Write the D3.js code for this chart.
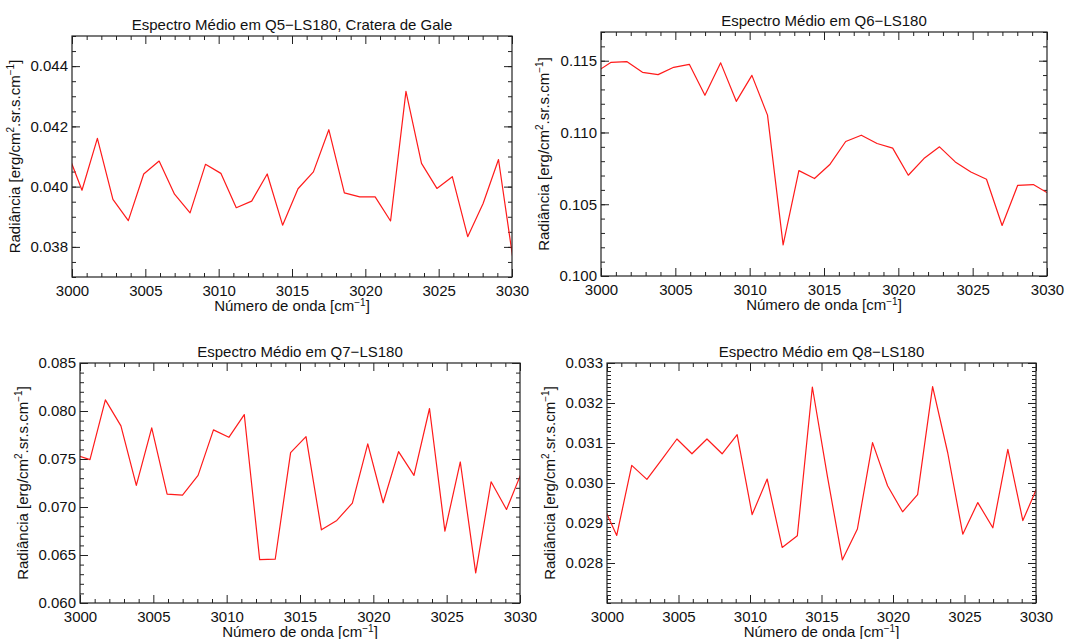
<!DOCTYPE html>
<html>
<head>
<meta charset="utf-8">
<script src="https://cdn.jsdelivr.net/npm/d3@7"></script>
<style>
  body { margin: 0; background: #fff; }
  svg { display: block; }
  text { font-family: "Liberation Sans", Arial, Helvetica, sans-serif; }
</style>
</head>
<body>
<svg id="chart" width="1065" height="639"></svg>
<script>
// Wavenumber grid of the averaged spectra [cm^-1]
const wavenumber = [2999.63, 3000.68, 3001.73, 3002.79, 3003.84, 3004.89, 3005.94, 3006.99,
  3008.05, 3009.10, 3010.15, 3011.20, 3012.25, 3013.31, 3014.36, 3015.41, 3016.46, 3017.51,
  3018.57, 3019.62, 3020.67, 3021.72, 3022.77, 3023.83, 3024.88, 3025.93, 3026.98, 3028.03,
  3029.08, 3030.14];

// Mean radiance per quadrant [erg/cm2.sr.s.cm-1]
const radianceQ5 = [0.04121, 0.03988, 0.04160, 0.03958, 0.03887, 0.04042, 0.04085, 0.03975,
  0.03913, 0.04074, 0.04044, 0.03930, 0.03952, 0.04042, 0.03872, 0.03993, 0.04049, 0.04189,
  0.03979, 0.03966, 0.03966, 0.03886, 0.04316, 0.04077, 0.03994, 0.04033, 0.03834, 0.03944,
  0.04090, 0.03734];
const radianceQ6 = [0.11418, 0.11489, 0.11494, 0.11419, 0.11403, 0.11454, 0.11475, 0.11259,
  0.11485, 0.11217, 0.11398, 0.11121, 0.10217, 0.10734, 0.10679, 0.10779, 0.10937, 0.10981,
  0.10923, 0.10891, 0.10702, 0.10818, 0.10900, 0.10795, 0.10725, 0.10674, 0.10352, 0.10632,
  0.10637, 0.10572];
const radianceQ7 = [0.07547, 0.07493, 0.08116, 0.07845, 0.07225, 0.07824, 0.07135, 0.07124,
  0.07329, 0.07803, 0.07726, 0.07963, 0.06452, 0.06456, 0.07566, 0.07733, 0.06762, 0.06860,
  0.07041, 0.07657, 0.07044, 0.07577, 0.07329, 0.08026, 0.06748, 0.07469, 0.06313, 0.07263,
  0.06974, 0.07373];
const radianceQ8 = [0.02951, 0.02869, 0.03044, 0.03009, 0.03059, 0.03110, 0.03073, 0.03110,
  0.03073, 0.03121, 0.02921, 0.03010, 0.02839, 0.02868, 0.03240, 0.03017, 0.02808, 0.02885,
  0.03101, 0.02993, 0.02928, 0.02971, 0.03241, 0.03075, 0.02872, 0.02951, 0.02888, 0.03084,
  0.02906, 0.02994];

// Axis ranges and tick labels
const xRange = [3000, 3030];
const xTickLabels = [3000, 3005, 3010, 3015, 3020, 3025, 3030];
const yRangeQ5 = [0.037, 0.045];
const yRangeQ6 = [0.100, 0.117];
const yRangeQ7 = [0.060, 0.085];
const yRangeQ8 = [0.027, 0.033];
const yTickLabelsQ5 = [0.038, 0.040, 0.042, 0.044];
const yTickLabelsQ6 = [0.100, 0.105, 0.110, 0.115];
const yTickLabelsQ7 = [0.060, 0.065, 0.070, 0.075, 0.080, 0.085];
const yTickLabelsQ8 = [0.028, 0.029, 0.030, 0.031, 0.032, 0.033];

const titles = [
  "Espectro Médio em Q5\u2212LS180, Cratera de Gale",
  "Espectro Médio em Q6\u2212LS180",
  "Espectro Médio em Q7\u2212LS180",
  "Espectro Médio em Q8\u2212LS180"
];

const svg = d3.select("#chart");
const FONT = 15;
const AXIS_COLOR = "#222";

function stepTicks(domain, step) {
  const n = Math.round((domain[1] - domain[0]) / step);
  return d3.range(n + 1).map(k => +(domain[0] + k * step).toFixed(6));
}

function styleAxis(sel) {
  sel.select(".domain").remove();
  sel.attr("color", AXIS_COLOR)
     .attr("font-size", FONT)
     .attr("font-family", null);
  sel.selectAll(".tick line").attr("stroke-width", 1);
  sel.selectAll(".tick text").attr("fill", "#111");
}

function drawPanel(cfg, idx) {
  const { left, right, top, bottom, values, yRange, yLabels, yMinorStep } = cfg;
  const x = d3.scaleLinear().domain(xRange).range([left, right]);
  const y = d3.scaleLinear().domain(yRange).range([bottom, top]);
  const g = svg.append("g");

  // minor ticks on all four sides
  const xMinor = stepTicks(xRange, 1).filter(v => v % 5 !== 0);
  const yMinor = stepTicks(yRange, yMinorStep);
  g.append("g").attr("transform", `translate(0,${bottom})`)
    .call(d3.axisBottom(x).tickValues(xMinor).tickSize(-4).tickSizeOuter(0).tickFormat(""))
    .call(styleAxis);
  g.append("g").attr("transform", `translate(0,${top})`)
    .call(d3.axisTop(x).tickValues(xMinor).tickSize(-4).tickSizeOuter(0).tickFormat(""))
    .call(styleAxis);
  g.append("g").attr("transform", `translate(${left},0)`)
    .call(d3.axisLeft(y).tickValues(yMinor).tickSize(-4).tickSizeOuter(0).tickFormat(""))
    .call(styleAxis);
  g.append("g").attr("transform", `translate(${right},0)`)
    .call(d3.axisRight(y).tickValues(yMinor).tickSize(-4).tickSizeOuter(0).tickFormat(""))
    .call(styleAxis);

  // major ticks with labels on bottom/left, mirrored on top/right
  g.append("g").attr("transform", `translate(0,${bottom})`)
    .call(d3.axisBottom(x).tickValues(xTickLabels).tickSize(-8).tickSizeOuter(0)
      .tickPadding(8).tickFormat(d3.format("d")))
    .call(styleAxis);
  g.append("g").attr("transform", `translate(0,${top})`)
    .call(d3.axisTop(x).tickValues(xTickLabels).tickSize(-8).tickSizeOuter(0).tickFormat(""))
    .call(styleAxis);
  g.append("g").attr("transform", `translate(${left},0)`)
    .call(d3.axisLeft(y).tickValues(yLabels).tickSize(-8).tickSizeOuter(0)
      .tickPadding(4).tickFormat(d3.format(".3f")))
    .call(styleAxis);
  g.append("g").attr("transform", `translate(${right},0)`)
    .call(d3.axisRight(y).tickValues(yLabels).tickSize(-8).tickSizeOuter(0).tickFormat(""))
    .call(styleAxis);

  // spectrum line, clipped to the plot box
  const clipId = "clip" + idx;
  svg.append("clipPath").attr("id", clipId)
    .append("rect").attr("x", left).attr("y", top)
    .attr("width", right - left).attr("height", bottom - top);
  const line = d3.line().x((d, i) => x(wavenumber[i])).y(d => y(d));
  g.append("path")
    .datum(values)
    .attr("clip-path", `url(#${clipId})`)
    .attr("fill", "none")
    .attr("stroke", "#ff1a1a")
    .attr("stroke-width", 1.2)
    .attr("stroke-linejoin", "round")
    .attr("d", line);

  // frame
  g.append("rect")
    .attr("x", left).attr("y", top)
    .attr("width", right - left).attr("height", bottom - top)
    .attr("fill", "none").attr("stroke", AXIS_COLOR).attr("stroke-width", 1.2);

  // title
  g.append("text")
    .attr("x", (left + right) / 2).attr("y", top - 6)
    .attr("text-anchor", "middle").attr("font-size", FONT).attr("fill", "#111")
    .text(titles[idx]);

  // x axis title
  const xt = g.append("text")
    .attr("x", (left + right) / 2).attr("y", bottom + 34)
    .attr("text-anchor", "middle").attr("font-size", FONT).attr("fill", "#111");
  xt.append("tspan").text("Número de onda [cm");
  xt.append("tspan").attr("dy", -5).attr("font-size", 10).text("\u22121");
  xt.append("tspan").attr("dy", 5).text("]");

  // y axis title
  const yt = g.append("text")
    .attr("transform", `translate(${left - 52},${(top + bottom) / 2}) rotate(-90)`)
    .attr("text-anchor", "middle").attr("font-size", FONT).attr("fill", "#111");
  yt.append("tspan").text("Radiância [erg/cm");
  yt.append("tspan").attr("dy", -6).attr("font-size", 10).text("2");
  yt.append("tspan").attr("dy", 6).text(".sr.s.cm");
  yt.append("tspan").attr("dy", -6).attr("font-size", 10).text("\u22121");
  yt.append("tspan").attr("dy", 6).text("]");
}

const panels = [
  { left: 72,  right: 512,  top: 36,  bottom: 277, values: radianceQ5, yRange: yRangeQ5, yLabels: yTickLabelsQ5, yMinorStep: 0.0005 },
  { left: 601, right: 1047, top: 32,  bottom: 276, values: radianceQ6, yRange: yRangeQ6, yLabels: yTickLabelsQ6, yMinorStep: 0.001 },
  { left: 80,  right: 520,  top: 363, bottom: 603, values: radianceQ7, yRange: yRangeQ7, yLabels: yTickLabelsQ7, yMinorStep: 0.001 },
  { left: 607, right: 1036, top: 363, bottom: 603, values: radianceQ8, yRange: yRangeQ8, yLabels: yTickLabelsQ8, yMinorStep: 0.0001 }
];

panels.forEach(drawPanel);
</script>
</body>
</html>
